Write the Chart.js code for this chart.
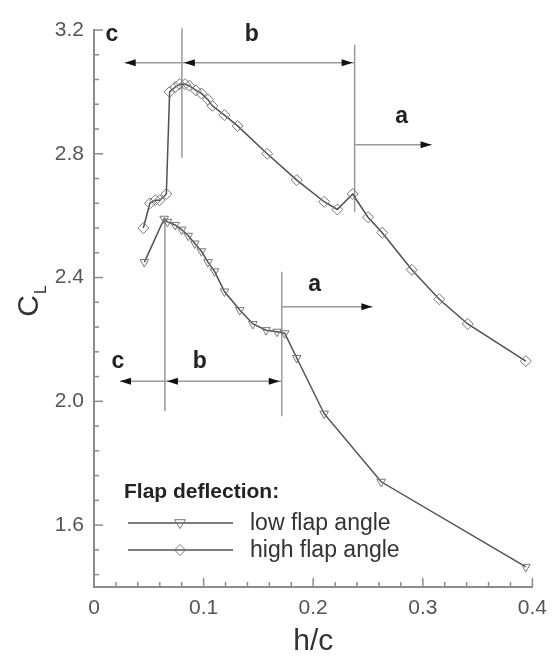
<!DOCTYPE html>
<html>
<head>
<meta charset="utf-8">
<script src="https://cdn.jsdelivr.net/npm/chart.js@4.4.1/dist/chart.umd.min.js"></script>
<style>
  html, body { margin: 0; padding: 0; background: #fff; }
</style>
</head>
<body>
<canvas id="liftChart" width="556" height="657"></canvas>
<script>
// low flap angle (down triangles)
var lowX = [0.046, 0.064, 0.067, 0.074, 0.080, 0.086, 0.092, 0.098, 0.104, 0.110, 0.119, 0.133, 0.145, 0.157, 0.167, 0.174, 0.185, 0.210, 0.262, 0.394];
var lowY = [2.45, 2.59, 2.58, 2.57, 2.555, 2.535, 2.51, 2.485, 2.45, 2.42, 2.355, 2.295, 2.25, 2.23, 2.225, 2.22, 2.14, 1.96, 1.74, 1.465];
// high flap angle (diamonds)
var highX = [0.045, 0.051, 0.056, 0.060, 0.066, 0.069, 0.074, 0.078, 0.083, 0.087, 0.093, 0.098, 0.104, 0.108, 0.119, 0.131, 0.158, 0.185, 0.210, 0.222, 0.236, 0.250, 0.263, 0.290, 0.315, 0.341, 0.394];
var highY = [2.56, 2.64, 2.65, 2.65, 2.67, 3.00, 3.015, 3.025, 3.025, 3.02, 3.005, 2.995, 2.975, 2.955, 2.925, 2.89, 2.80, 2.715, 2.645, 2.62, 2.67, 2.595, 2.545, 2.425, 2.33, 2.25, 2.13];
var seriesNames = ["low flap angle", "high flap angle"];
var xTicks = [0, 0.1, 0.2, 0.3, 0.4];
var yTicks = [1.6, 2.0, 2.4, 2.8, 3.2];

function toPoints(xs, ys) {
    return xs.map(function(x, i) { return {x: x, y: ys[i]}; });
}

var axisGrey = "#8c8c8c";
var font = "'Liberation Sans', Arial, Helvetica, sans-serif";

// flow-regime guides, in data units
var guides = [
    {vx: 0.0802, vTop: 3.206, vBot: 2.787, hy: 3.094, cEnd: 0.028, ax: 0.2378, aTop: 3.152, aBot: 2.613, ay: 2.829, aEnd: 0.308,
     cLab: [0.0164, 3.184], bLab: [0.144, 3.184], aLab: [0.2806, 2.919]},
    {vx: 0.0647, vTop: 2.594, vBot: 1.968, hy: 2.0645, cEnd: 0.0237, ax: 0.1713, aTop: 2.419, aBot: 1.952, ay: 2.306, aEnd: 0.254,
     cLab: [0.0219, 2.129], bLab: [0.0966, 2.129], aLab: [0.2014, 2.377]}
];

function arrowHead(ctx, x, y, dir) {
    ctx.beginPath();
    ctx.moveTo(x, y);
    ctx.lineTo(x - dir * 11, y - 3.5);
    ctx.lineTo(x - dir * 11, y + 3.5);
    ctx.closePath();
    ctx.fill();
}

function marker(ctx, style, x, y, r) {
    ctx.beginPath();
    if (style == "diamond") {
        ctx.moveTo(x, y - r); ctx.lineTo(x + r, y); ctx.lineTo(x, y + r); ctx.lineTo(x - r, y);
    } else {
        ctx.moveTo(x - r, y - r * 0.6); ctx.lineTo(x + r, y - r * 0.6); ctx.lineTo(x, y + r);
    }
    ctx.closePath();
    ctx.stroke();
}

var extras = {
    id: "extras",
    beforeDatasetsDraw: function(chart) {
        var ctx = chart.ctx, xs = chart.scales.x, ys = chart.scales.y, a = chart.chartArea;
        ctx.save();
        // inward ticks
        ctx.strokeStyle = axisGrey;
        ctx.lineWidth = 1.5;
        for (var i = 0; i <= 20; i++) {
            var px = xs.getPixelForValue(i * 0.02);
            ctx.beginPath(); ctx.moveTo(px, a.bottom); ctx.lineTo(px, a.bottom - (i % 5 == 0 ? 9 : 5)); ctx.stroke();
        }
        for (var j = -2; j <= 20; j++) {
            var py = ys.getPixelForValue(1.6 + j * 0.08);
            ctx.beginPath(); ctx.moveTo(a.left, py); ctx.lineTo(a.left + (j % 5 == 0 ? 9 : 5), py); ctx.stroke();
        }
        // guide lines
        guides.forEach(function(g) {
            var vx = xs.getPixelForValue(g.vx), ax = xs.getPixelForValue(g.ax);
            var hy = ys.getPixelForValue(g.hy), ay = ys.getPixelForValue(g.ay);
            var cEnd = xs.getPixelForValue(g.cEnd), aEnd = xs.getPixelForValue(g.aEnd);
            ctx.strokeStyle = "#9a9a9a";
            ctx.lineWidth = 1.5;
            ctx.beginPath();
            ctx.moveTo(vx, ys.getPixelForValue(g.vTop)); ctx.lineTo(vx, ys.getPixelForValue(g.vBot));
            ctx.moveTo(ax, ys.getPixelForValue(g.aTop)); ctx.lineTo(ax, ys.getPixelForValue(g.aBot));
            ctx.moveTo(cEnd, hy); ctx.lineTo(ax, hy);
            ctx.moveTo(ax, ay); ctx.lineTo(aEnd, ay);
            ctx.stroke();
            ctx.fillStyle = "#111";
            arrowHead(ctx, cEnd, hy, -1);
            arrowHead(ctx, vx + 2, hy, -1);
            arrowHead(ctx, ax - 2, hy, 1);
            arrowHead(ctx, aEnd, ay, 1);
            ctx.font = "bold 23px " + font;
            ctx.textAlign = "center";
            ctx.textBaseline = "middle";
            ctx.fillStyle = "#222";
            ctx.fillText("c", xs.getPixelForValue(g.cLab[0]), ys.getPixelForValue(g.cLab[1]));
            ctx.fillText("b", xs.getPixelForValue(g.bLab[0]), ys.getPixelForValue(g.bLab[1]));
            ctx.fillText("a", xs.getPixelForValue(g.aLab[0]), ys.getPixelForValue(g.aLab[1]));
        });
        ctx.restore();
    },
    afterDraw: function(chart) {
        var ctx = chart.ctx;
        ctx.save();
        // y title C_L
        ctx.translate(30, 306);
        ctx.rotate(-Math.PI / 2);
        ctx.fillStyle = "#333";
        ctx.font = "30px " + font;
        ctx.textAlign = "center";
        ctx.textBaseline = "middle";
        ctx.fillText("C", 0, 0);
        ctx.font = "16px " + font;
        ctx.textAlign = "left";
        ctx.fillText("L", 12, 12);
        ctx.restore();

        // legend
        ctx.save();
        ctx.fillStyle = "#222";
        ctx.font = "bold 21px " + font;
        ctx.textBaseline = "middle";
        ctx.fillText("Flap deflection:", 124, 492);
        ctx.font = "23px " + font;
        var styles = ["triangle", "diamond"];
        chart.data.datasets.forEach(function(ds, k) {
            var y = 523 + k * 27;
            ctx.strokeStyle = "#505050";
            ctx.lineWidth = 1.5;
            ctx.beginPath(); ctx.moveTo(128, y); ctx.lineTo(233, y); ctx.stroke();
            ctx.strokeStyle = "#777";
            ctx.lineWidth = 1;
            marker(ctx, styles[k], 180, y, 5.5);
            ctx.fillStyle = "#333";
            ctx.fillText(ds.label, 250, y + 1);
        });
        ctx.restore();
    }
};

new Chart("liftChart", {
    type: "scatter",
    data: {
        datasets: [{
            label: seriesNames[0],
            data: toPoints(lowX, lowY),
            showLine: true,
            borderColor: "#505050",
            borderWidth: 1.5,
            pointStyle: "triangle",
            pointRotation: 180,
            pointRadius: 5,
            pointBorderColor: "#777",
            pointBorderWidth: 1,
            pointBackgroundColor: "rgba(255,255,255,0)"
        }, {
            label: seriesNames[1],
            data: toPoints(highX, highY),
            showLine: true,
            borderColor: "#505050",
            borderWidth: 1.5,
            pointStyle: "rectRot",
            pointRadius: 5.5,
            pointBorderColor: "#777",
            pointBorderWidth: 1,
            pointBackgroundColor: "rgba(255,255,255,0)"
        }]
    },
    options: {
        responsive: false,
        animation: false,
        layout: {padding: {top: 30, right: 20, left: 0, bottom: 0}},
        plugins: {legend: {display: false}, tooltip: {enabled: false}},
        scales: {
            x: {
                type: "linear", min: 0, max: 0.4,
                afterFit: function(s) { s.height = 70; },
                afterBuildTicks: function(s) { s.ticks = xTicks.map(function(v) { return {value: v}; }); },
                grid: {display: false, drawTicks: false},
                border: {display: true, color: axisGrey, width: 2},
                ticks: {padding: 9, color: "#555", font: {family: font, size: 21},
                        callback: function(v) { return v === 0 ? "0" : v.toFixed(1); }},
                title: {display: true, text: "h/c", color: "#333", font: {family: font, size: 30, lineHeight: 1}, padding: {top: 0, bottom: 0}}
            },
            y: {
                type: "linear", min: 1.4, max: 3.2,
                afterFit: function(s) { s.width = 94; },
                afterBuildTicks: function(s) { s.ticks = yTicks.map(function(v) { return {value: v}; }); },
                grid: {display: false, drawTicks: false},
                border: {display: true, color: axisGrey, width: 2},
                ticks: {padding: 10, color: "#555", font: {family: font, size: 21},
                        callback: function(v) { return v.toFixed(1); }}
            }
        }
    },
    plugins: [extras]
});
</script>
</body>
</html>
